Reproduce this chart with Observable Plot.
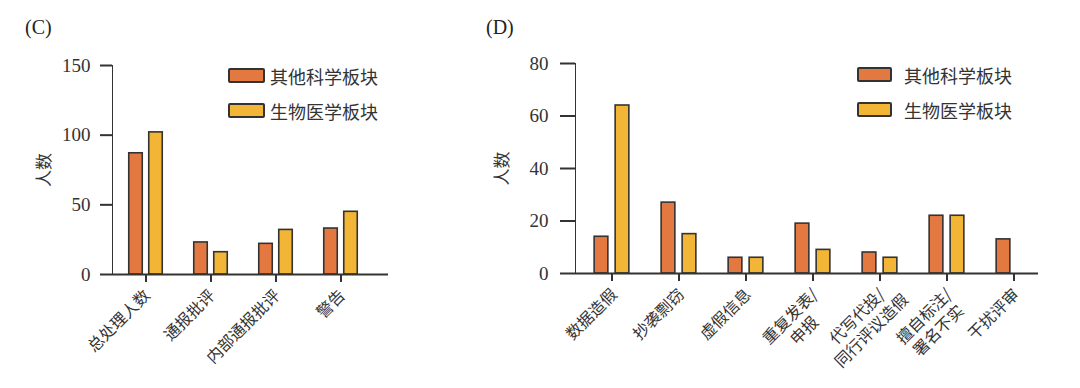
<!DOCTYPE html>
<html>
<head>
<meta charset="utf-8">
<script src="https://cdn.jsdelivr.net/npm/d3@7"></script>
<script src="https://cdn.jsdelivr.net/npm/@observablehq/plot@0.6"></script>
<style>
  body { margin: 0; background: #fff; }
  #wrap { position: relative; width: 1080px; height: 388px; overflow: hidden; background: #fff; }
  .panel { position: absolute; top: 0; }
  .tag { position: absolute; font-family: "Liberation Serif", serif; font-size: 20px; line-height: 20px; color: #222; }
  .legend { position: absolute; font-family: "Noto Sans CJK SC", sans-serif; }
  .legend .row { display: flex; align-items: center; height: 35px; }
  .legend .sw { box-sizing: border-box; height: 15px; border: 2px solid #333; border-radius: 2px; }
  .legend .lb { font-size: 18px; line-height: 18px; color: #333; }
</style>
</head>
<body>
<div id="wrap"></div>
<script>
// ---- data ----
const seriesNames = ["其他科学板块", "生物医学板块"];
const seriesColors = ["#E37840", "#F2B535"];

const categoriesC = ["总处理人数", "通报批评", "内部通报批评", "警告"];
const otherC = [87, 23, 22, 33];
const bioC = [102, 16, 32, 45];
const yTicksC = [0, 50, 100, 150];

const categoriesD = ["数据造假", "抄袭剽窃", "虚假信息", "重复发表/\n申报", "代写代投/\n同行评议造假", "擅自标注/\n署名不实", "干扰评审"];
const otherD = [14, 27, 6, 19, 8, 22, 13];
const bioD = [64, 15, 6, 9, 6, 22, 0];
const yTicksD = [0, 20, 40, 60, 80];

const yLabel = "人数";

// ---- chart builder ----
function makeChart(cfg) {
  const rows = cfg.cats.flatMap((c, i) => [
    {cat: c, series: seriesNames[0], value: cfg.a[i]},
    {cat: c, series: seriesNames[1], value: cfg.b[i]}
  ]);
  const step = (cfg.xRange[1] - cfg.xRange[0]) / cfg.cats.length;
  const outer = step / 2 - cfg.gap / 2 - cfg.barW;
  const near = step / 2 + cfg.gap / 2;
  const barOpts = {x: "cat", y: "value", fill: "series", stroke: "#333", strokeWidth: 1.6};
  return Plot.plot({
    width: cfg.width,
    height: 388,
    marginLeft: cfg.marginLeft,
    marginRight: cfg.marginRight,
    marginTop: cfg.marginTop,
    marginBottom: cfg.marginBottom,
    style: {fontFamily: "'Liberation Serif', serif", fontSize: "19px", color: "#333", background: "transparent"},
    x: {type: "band", domain: cfg.cats, range: cfg.xRange, padding: 0},
    y: {domain: [0, cfg.yTicks[cfg.yTicks.length - 1]], ticks: cfg.yTicks, tickSize: cfg.yTickSize, tickPadding: cfg.yTickPadding,
        line: true, label: yLabel, labelAnchor: "center", labelOffset: cfg.labelOffset, labelArrow: "none"},
    color: {domain: seriesNames, range: seriesColors},
    marks: [
      Plot.barY(rows.filter(d => d.series === seriesNames[0]), {...barOpts, insetLeft: outer, insetRight: near}),
      Plot.barY(rows.filter(d => d.series === seriesNames[1]), {...barOpts, insetLeft: near, insetRight: outer}),
      Plot.ruleY([0], {stroke: "#333", strokeWidth: 2}),
      Plot.axisX({tickSize: 8, text: null, stroke: "#333", strokeWidth: 2, label: null}),
      Plot.axisX({tickRotate: -45, tickSize: 8, tickPadding: cfg.xTickPadding, fontSize: 16, lineHeight: 1.25, dx: cfg.xLabelDx,
                  stroke: "none", fontFamily: "'Noto Sans CJK SC', sans-serif", fill: "#333", lineAnchor: "top", label: null})
    ]
  });
}

function finish(svg) {
  const s = d3.select(svg);
  s.selectAll('g[aria-label="y-axis tick"]').attr("stroke-width", 2);
  s.selectAll('g[aria-label="y-axis label"] text').style("font-family", "'Noto Sans CJK SC', sans-serif").style("font-size", "17px");
  // centre the lines of two-line category labels on each other
  svg.querySelectorAll('g[aria-label="x-axis tick label"] text').forEach(t => {
    const spans = t.querySelectorAll("tspan");
    if (spans.length < 2) return;
    const w0 = spans[0].getComputedTextLength();
    spans.forEach(sp => sp.setAttribute("x", (sp.getComputedTextLength() - w0) / 2));
  });
}

function legend(left, top, swW, gap) {
  const lg = document.createElement("div");
  lg.className = "legend";
  lg.style.left = left + "px";
  lg.style.top = top + "px";
  seriesNames.forEach((n, i) => {
    const row = document.createElement("div");
    row.className = "row";
    const sw = document.createElement("div");
    sw.className = "sw";
    sw.style.width = swW + "px";
    sw.style.background = seriesColors[i];
    const lb = document.createElement("div");
    lb.className = "lb";
    lb.style.marginLeft = gap + "px";
    lb.textContent = n;
    row.append(sw, lb);
    lg.append(row);
  });
  return lg;
}

function tag(text, left, top) {
  const d = document.createElement("div");
  d.className = "tag";
  d.style.left = left + "px";
  d.style.top = top + "px";
  d.textContent = text;
  return d;
}

const wrap = document.getElementById("wrap");

const chartC = makeChart({
  cats: categoriesC, a: otherC, b: bioC, yTicks: yTicksC,
  width: 480, marginLeft: 112, marginRight: 92, marginTop: 65, marginBottom: 114,
  xRange: [112, 374], barW: 14, gap: 6,
  yTickSize: 12, yTickPadding: 10, xTickPadding: 4, xLabelDx: -5, labelOffset: 75
});
const pC = document.createElement("div");
pC.className = "panel"; pC.style.left = "0px";
pC.append(chartC);
wrap.append(pC);

const chartD = makeChart({
  cats: categoriesD, a: otherD, b: bioD, yTicks: yTicksD,
  width: 600, marginLeft: 95, marginRight: 42, marginTop: 63, marginBottom: 115,
  xRange: [97, 568], barW: 14, gap: 7,
  yTickSize: 15, yTickPadding: 12, xTickPadding: 4, xLabelDx: -4, labelOffset: 80
});
const pD = document.createElement("div");
pD.className = "panel"; pD.style.left = "480px";
pD.append(chartD);
wrap.append(pD);

finish(chartC);
finish(chartD);

wrap.append(tag("(C)", 25, 17));
wrap.append(tag("(D)", 486, 17));
wrap.append(legend(228, 58, 37, 5));
wrap.append(legend(857, 57, 35, 12));
</script>
</body>
</html>
